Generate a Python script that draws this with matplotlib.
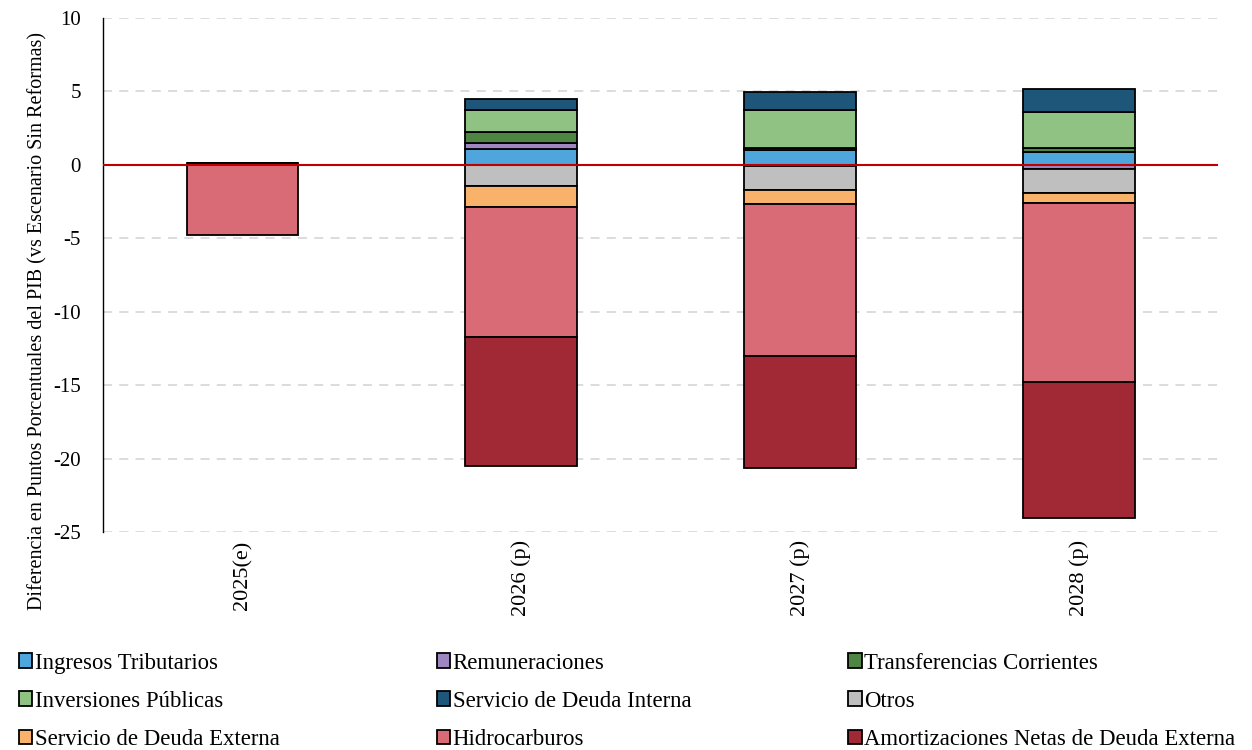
import numpy as np
import matplotlib.pyplot as plt

plt.rcParams['font.family'] = ['Liberation Serif', 'DejaVu Serif']
plt.rcParams['axes.unicode_minus'] = False

years = ['2025(e)', '2026 (p)', '2027 (p)', '2028 (p)']

series_names = ['Ingresos Tributarios', 'Remuneraciones', 'Transferencias Corrientes',
                'Inversiones Públicas', 'Servicio de Deuda Interna', 'Otros',
                'Servicio de Deuda Externa', 'Hidrocarburos',
                'Amortizaciones Netas de Deuda Externa']

ingresos = [0.15, 1.05, 1.0, 0.9]
remuneraciones = [0.0, 0.45, -0.1, -0.3]
transferencias = [0.0, 0.75, 0.18, 0.23]
inversiones = [0.0, 1.5, 2.55, 2.5]
deuda_interna = [0.0, 0.75, 1.25, 1.53]
otros = [0.0, -1.45, -1.6, -1.6]
deuda_externa = [0.0, -1.4, -0.95, -0.68]
hidrocarburos = [-4.8, -8.85, -10.35, -12.2]
amortizaciones = [0.0, -8.8, -7.65, -9.3]

colors = ['#4EA6DC', '#9E86C0', '#4E8542', '#8FC283', '#1E567A',
          '#BFBFBF', '#F8B26A', '#D96B76', '#A12936']

data = [ingresos, remuneraciones, transferencias, inversiones, deuda_interna,
        otros, deuda_externa, hidrocarburos, amortizaciones]

fig = plt.figure(figsize=(12.52, 7.5), dpi=100)
ax = fig.add_axes([0.0823, 0.2907, 0.8907, 0.6853])

x = np.arange(len(years))
width = 0.4
pos_base = np.zeros(len(years))
neg_base = np.zeros(len(years))
handles = []
for vals, c, name in zip(data, colors, series_names):
    vals = np.array(vals, dtype=float)
    bottom = np.where(vals >= 0, pos_base, neg_base)
    b = ax.bar(x, vals, width, bottom=bottom, color=c, edgecolor='black',
               linewidth=1.3, label=name, zorder=3)
    handles.append(b)
    pos_base = pos_base + np.where(vals > 0, vals, 0)
    neg_base = neg_base + np.where(vals < 0, vals, 0)

ax.axhline(0, color='#C00000', linewidth=1.5, zorder=4)

ax.set_xlim(-0.5, 3.5)
ax.set_ylim(-25, 10)
ax.set_yticks(np.arange(-25, 11, 5))
ax.tick_params(axis='y', labelsize=15, length=0, pad=16)
ax.set_xticks(x)
ax.set_xticklabels(years, rotation=90, fontsize=16)
ax.tick_params(axis='x', length=0, pad=6)
ax.yaxis.grid(True, linestyle=(0, (5, 4)), color='#D9D9D9', linewidth=1.3, zorder=0)
for s in ['top', 'right', 'bottom']:
    ax.spines[s].set_visible(False)
ax.spines['left'].set_linewidth(1.0)
ax.set_ylabel('Diferencia en Puntos Porcentuales del PIB (vs Escenario Sin Reformas)',
              fontsize=14.5)
ax.yaxis.set_label_coords(-0.05, 0.41)

# legend: row-major order in 3 columns
order = [0, 3, 6, 1, 4, 7, 2, 5, 8]
fig.legend([handles[i] for i in order], [series_names[i] for i in order],
           loc='lower left', bbox_to_anchor=(0.004, -0.018), ncol=3, frameon=False,
           fontsize=16.4, handlelength=0.6, handleheight=0.6, handletextpad=0.1,
           columnspacing=6.9, labelspacing=0.75, borderaxespad=0.2)

fig.savefig('out.png', dpi=100)
